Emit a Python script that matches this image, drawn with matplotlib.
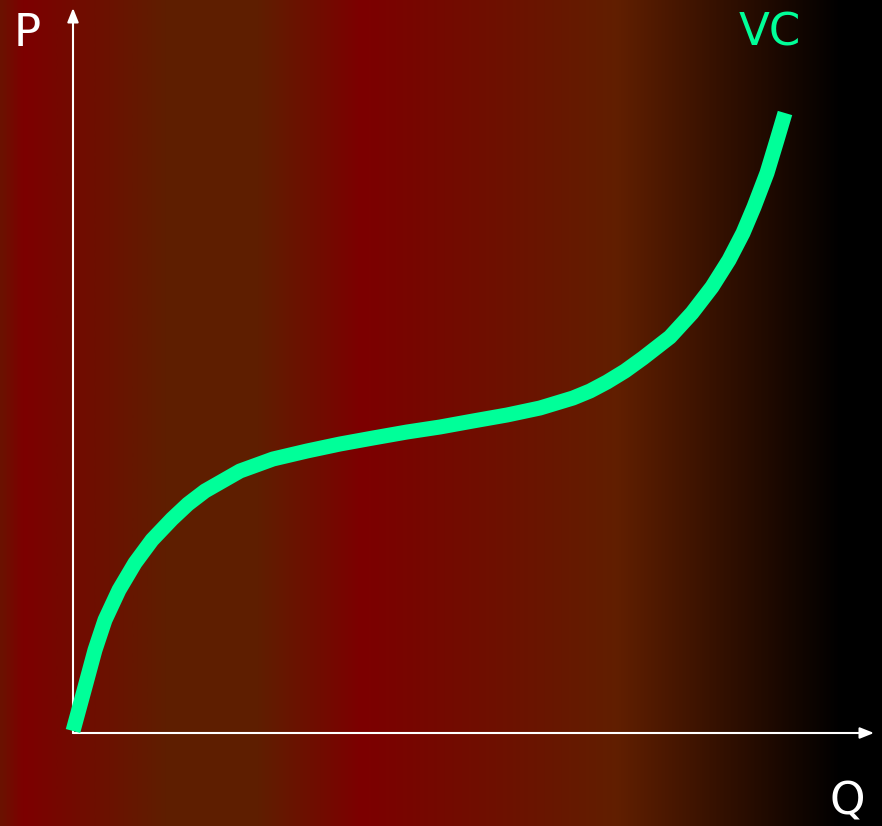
import numpy as np
import matplotlib
matplotlib.use("Agg")
import matplotlib.pyplot as plt
from matplotlib.colors import LinearSegmentedColormap

# variable cost curve (Q, VC)
q = [0.0, 1.2, 2.2, 3.2, 4.6, 6.2, 7.9, 9.9, 11.5, 13.2, 16.7, 20.0, 23.4,
     26.7, 30.0, 33.4, 36.7, 40.0, 43.4, 46.7, 50.0, 51.7, 53.4, 55.2,
     57.0, 59.7, 61.9, 63.9, 65.6, 67.0, 68.1, 69.4, 70.4, 71.2]
vc = [0.2, 4.6, 8.3, 11.3, 14.3, 17.0, 19.3, 21.4, 22.9, 24.2, 26.2, 27.4,
      28.2, 28.9, 29.5, 30.1, 30.6, 31.2, 31.8, 32.5, 33.5, 34.2, 35.1,
      36.2, 37.5, 39.6, 42.0, 44.6, 47.3, 50.0, 52.6, 56.0, 59.3, 62.0]

x_label = "Q"
y_label = "P"
curve_label = "VC"

# background gradient stops
bg_pos = [0.0, 0.025, 0.19, 0.29, 0.41, 0.70, 0.955, 1.0]
bg_col = [(0.42, 0.07, 0.0), (0.49, 0.0, 0.0), (0.37, 0.12, 0.0),
          (0.37, 0.12, 0.0), (0.49, 0.0, 0.0), (0.38, 0.12, 0.0),
          (0.0, 0.0, 0.0), (0.0, 0.0, 0.0)]

W, H = 882, 826
fig = plt.figure(figsize=(W / 100, H / 100), dpi=100)
ax = fig.add_axes([0, 0, 1, 1])
x0, x1 = -7.3, 80.9
y0, y1 = -9.3, 73.3
ax.set_xlim(x0, x1)
ax.set_ylim(y0, y1)
ax.axis("off")

cmap = LinearSegmentedColormap.from_list("bg", list(zip(bg_pos, bg_col)))
grad = np.linspace(0, 1, 512).reshape(1, -1)
ax.imshow(grad, cmap=cmap, aspect="auto", extent=[x0, x1, y0, y1],
          zorder=0, interpolation="bilinear")

arrow = dict(arrowstyle="-|>,head_length=0.7,head_width=0.28",
             color="white", lw=1.5, mutation_scale=12, shrinkA=0, shrinkB=0)
ax.annotate("", xy=(80.1, 0), xytext=(0, 0), arrowprops=arrow, zorder=2)
ax.annotate("", xy=(0, 72.5), xytext=(0, 0), arrowprops=arrow, zorder=2)

ax.plot(q, vc, color="#00ff99", lw=10.8, solid_capstyle="butt",
        solid_joinstyle="round", zorder=3)

font = dict(family="DejaVu Sans", fontsize=32.5, va="baseline", ha="left")
fig.text(14 / W, 1 - 46 / H, y_label, color="white", **font)
fig.text(739 / W, 1 - 46 / H, curve_label, color="#00ff99", **font)
fig.text(830 / W, 1 - 815 / H, x_label, color="white", **font)

fig.savefig("out.png", dpi=100)
